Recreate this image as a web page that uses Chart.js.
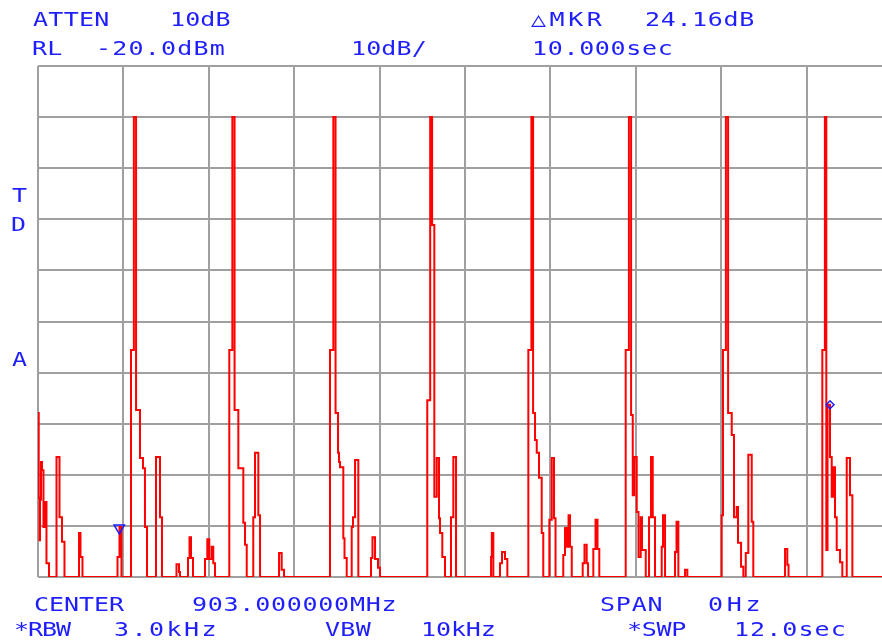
<!DOCTYPE html>
<html>
<head>
<meta charset="utf-8">
<script src="https://cdn.jsdelivr.net/npm/chart.js@4"></script>
<style>
  html, body { margin: 0; padding: 0; background: #fff; overflow: hidden; }
  #wrap { position: relative; width: 882px; height: 642px; overflow: hidden; }
  canvas { position: absolute; left: 0; top: 0; }
  .lbl { position: absolute; font-family: 'DejaVu Sans Mono', monospace; font-size: 20px; line-height: 20px; color: #1e1eff; white-space: pre; transform-origin: 0 0; }
</style>
</head>
<body>
<div id="wrap">
  <canvas id="trace" width="900" height="642"></canvas>
</div>
<script>
// zero span sweep, 12 s over 10 divisions, 10 dB/div from RL -20 dBm
const traceTime = [
  0, 0.010, 0.021, 0.028, 0.042, 0.056, 0.077, 0.098, 0.119, 0.155,
  0.260, 0.302, 0.337, 0.372, 0.576, 0.597, 0.625, 1.117, 1.145, 1.173,
  1.307, 1.347, 1.378, 1.433, 1.475, 1.503, 1.532, 1.658, 1.714, 1.742,
  1.946, 1.981, 1.995, 2.108, 2.129, 2.150, 2.178, 2.347, 2.379, 2.407,
  2.441, 2.463, 2.487,
  2.688, 2.731, 2.762, 2.815, 2.885, 2.909, 2.933, 3.025, 3.049, 3.096,
  3.120, 3.387, 3.424, 3.457,
  4.103, 4.150, 4.181, 4.216, 4.230, 4.244, 4.290, 4.307, 4.338, 4.408,
  4.426, 4.455, 4.501, 4.679, 4.700, 4.736, 4.778, 4.806,
  5.470, 5.511, 5.538, 5.569, 5.603, 5.635, 5.649, 5.681, 5.719, 5.803,
  5.836, 5.874, 6.366, 6.377, 6.398, 6.492, 6.520, 6.562, 6.595,
  6.890, 6.933, 6.957, 6.984, 7.008, 7.040, 7.078, 7.100, 7.185, 7.219,
  7.251, 7.272, 7.381, 7.405, 7.429, 7.455, 7.476, 7.500, 7.654, 7.679,
  7.710, 7.729, 7.803, 7.834, 7.862, 7.887,
  8.258, 8.303, 8.334, 8.357, 8.379, 8.413, 8.438, 8.469, 8.487, 8.540,
  8.586, 8.614, 8.638, 8.670, 8.764, 8.782, 8.811, 8.951, 8.972, 8.998,
  9.092, 9.124,
  9.607, 9.625, 9.666, 9.697, 9.748, 9.780, 9.818, 9.836, 9.879, 9.911,
  9.945, 9.981, 10.029, 10.051, 10.497, 10.529, 10.546,
  11.021, 11.057, 11.077, 11.094, 11.129, 11.153, 11.177, 11.199, 11.223, 11.270,
  11.302, 11.364, 11.410, 11.443, 12
];
const traceLevel = [
  -87.9, -104.5, -112.8, -104.9, -97.5, -99.1, -110.2, -105.3, -117.3, -120,
  -96.5, -108.3, -113.1, -120, -111.4, -116.1, -120, -116.1, -110.2, -120,
  -75.6, -30, -87.3, -96.7, -98.7, -110.2, -120, -96.5, -108.3, -120,
  -117.5, -119.0, -120, -116.3, -112.2, -116.3, -120, -116.5, -112.6, -116.5,
  -114.1, -117.3, -120,
  -75.6, -30, -87.3, -98.7, -109.4, -113.7, -120, -108.3, -95.7, -107.9,
  -120, -115.3, -118.6, -120,
  -75.6, -30, -87.9, -95.7, -97.5, -98.5, -112.4, -116.3, -120, -110.2,
  -108.3, -97.1, -120, -116.3, -112.2, -116.5, -118.2, -120,
  -85.4, -30, -51.1, -104.3, -96.7, -108.5, -111.4, -116.1, -120, -108.3,
  -96.5, -120, -116.1, -111.4, -120, -117.3, -115.1, -116.5, -120,
  -75.6, -30, -87.9, -93.2, -95.7, -100.6, -111.4, -120, -108.8, -96.7,
  -108.5, -120, -115.7, -110.4, -114.1, -107.9, -114.1, -120, -117.3, -113.7,
  -117.3, -120, -114.5, -108.8, -114.5, -120,
  -75.6, -30, -88.3, -104.0, -96.5, -107.3, -116.1, -108.3, -114.7, -120,
  -108.3, -96.5, -108.3, -120, -114.1, -107.9, -120, -115.1, -109.2, -120,
  -118.6, -120,
  -107.9, -75.6, -30, -87.9, -92.2, -108.3, -106.3, -113.3, -118.0, -120,
  -115.3, -96.1, -109.2, -120, -114.5, -117.6, -120,
  -75.6, -30, -114.7, -86.3, -96.5, -104.3, -98.5, -108.3, -114.7, -117.1,
  -120, -96.7, -104.0, -120, -120
];

// reference marker and delta marker
const markerTime = [1.142, 11.129];
const markerLevel = [-110.4, -86.3];

const headerText = [
  ['ATTEN', 33, 12, 75], ['10dB', 172, 12, 58],
  ['\u25B3MKR', 531, 12, 72], ['24.16dB', 646, 12, 108],
  ['RL', 33, 41, 29], ['-20.0dBm', 100, 41, 125],
  ['10dB/', 353, 41, 72], ['10.000sec', 534, 41, 137],
  ['CENTER', 35, 597, 90], ['903.000000MHz', 193, 597, 202],
  ['SPAN', 601, 597, 60], ['0Hz', 709, 597, 50],
  ['*RBW', 15, 622, 57], ['3.0kHz', 115, 622, 100],
  ['VBW', 325, 622, 47], ['10kHz', 423, 622, 71],
  ['*SWP', 628, 622, 58], ['12.0sec', 736, 622, 108],
  ['T', 12, 188, 10], ['D', 12, 217, 10], ['A', 12, 352, 10]
];

// bitmap font of the analyser is wider than DejaVu, stretch it a bit
const SX = 1.25;
const wrap = document.getElementById('wrap');
const mctx = document.createElement('canvas').getContext('2d');
mctx.font = '20px "DejaVu Sans Mono"';
const capM = mctx.measureText('E');
headerText.forEach(([text, x, capTop, w]) => {
  const m = mctx.measureText(text);
  const ink = m.actualBoundingBoxLeft + m.actualBoundingBoxRight;
  const n = [...text].length;
  const ls = n > 1 ? (w / SX - ink) / (n - 1) : 0;
  const fa = m.fontBoundingBoxAscent, fd = m.fontBoundingBoxDescent;
  const baseline = (20 - (fa + fd)) / 2 + fa;
  const div = document.createElement('div');
  div.className = 'lbl';
  div.textContent = text;
  div.style.letterSpacing = ls + 'px';
  div.style.transform = 'scaleX(' + SX + ')';
  div.style.left = (x + m.actualBoundingBoxLeft * SX) + 'px';
  div.style.top = (capTop - (baseline - capM.actualBoundingBoxAscent)) + 'px';
  wrap.appendChild(div);
});

const gridStyle = { color: '#a0a0a0', lineWidth: 2, drawTicks: false };

new Chart(document.getElementById('trace'), {
  type: 'line',
  data: {
    datasets: [
      {
        data: [{ x: markerTime[0], y: markerLevel[0] }],
        showLine: false,
        pointStyle: 'triangle',
        pointRotation: 180,
        pointRadius: 6,
        pointBorderColor: '#1e1eff',
        pointBackgroundColor: 'rgba(0,0,0,0)',
        pointBorderWidth: 1.5,
        order: 0
      },
      {
        data: [{ x: markerTime[1], y: markerLevel[1] }],
        showLine: false,
        pointStyle: 'rectRot',
        pointRadius: 4,
        pointBorderColor: '#1e1eff',
        pointBackgroundColor: 'rgba(0,0,0,0)',
        pointBorderWidth: 1.5,
        order: 0
      },
      {
        data: traceTime.map((t, i) => ({ x: t, y: traceLevel[i] })),
        borderColor: '#ff0000',
        borderWidth: 2,
        stepped: true,
        pointRadius: 0,
        fill: false,
        order: 1
      }
    ]
  },
  options: {
    responsive: false,
    animation: false,
    devicePixelRatio: 1,
    layout: { padding: { left: 38, top: 66, right: 8, bottom: 65 } },
    plugins: { legend: { display: false }, tooltip: { enabled: false } },
    scales: {
      x: {
        type: 'linear', min: 0, max: 12,
        ticks: { display: false, stepSize: 1.2 },
        grid: gridStyle,
        border: { display: false }
      },
      y: {
        min: -120, max: -20,
        ticks: { display: false, stepSize: 10 },
        grid: gridStyle,
        border: { display: false }
      }
    }
  }
});
</script>
</body>
</html>
